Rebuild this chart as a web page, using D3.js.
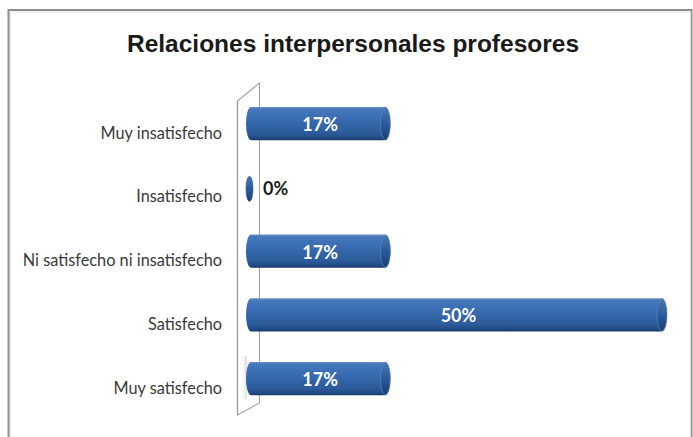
<!DOCTYPE html>
<html><head><meta charset="utf-8">
<script src="https://cdn.jsdelivr.net/npm/d3@7"></script>
<style>html,body{margin:0;padding:0;background:#fff;}svg{display:block;}</style>
</head><body>
<svg id="chart" width="693" height="437"></svg>
<script>
const title = "Relaciones interpersonales profesores";
const categories = ["Muy insatisfecho","Insatisfecho","Ni satisfecho ni insatisfecho","Satisfecho","Muy satisfecho"];
const values = [0.1667, 0, 0.1667, 0.5, 0.1667];
const xDomain = [0, 0.5];

const svg = d3.select("#chart");
const defs = svg.append("defs");
const g1 = defs.append("linearGradient").attr("id","barGrad").attr("x1",0).attr("y1",0).attr("x2",0).attr("y2",1);
[[0,"#6a90c6"],[0.07,"#4577bb"],[0.4,"#376aaf"],[0.8,"#2b5b99"],[0.93,"#224b84"],[1,"#183866"]]
  .forEach(([o,c])=>g1.append("stop").attr("offset",o).attr("stop-color",c));
const g2 = defs.append("linearGradient").attr("id","capGrad").attr("x1",0).attr("y1",0).attr("x2",0).attr("y2",1);
[[0,"#4a78b6"],[0.5,"#2b5b9b"],[1,"#1b3e70"]]
  .forEach(([o,c])=>g2.append("stop").attr("offset",o).attr("stop-color",c));
const g3 = defs.append("linearGradient").attr("id","shadeGrad").attr("x1",0).attr("y1",0).attr("x2",1).attr("y2",0);
[[0,"#ffffff",0],[1,"#b0b0b0",0.45]]
  .forEach(([o,c,a])=>g3.append("stop").attr("offset",o).attr("stop-color",c).attr("stop-opacity",a));

// frame
svg.append("rect").attr("x",8.5).attr("y",10).attr("width",683).attr("height",460)
  .attr("fill","#fff").attr("stroke","#8d8d8d").attr("stroke-width",2);
svg.append("rect").attr("x",10.5).attr("y",12).attr("width",680).attr("height",460)
  .attr("fill","none").attr("stroke","#e2e2e2").attr("stroke-width",1);

// title
svg.append("text").attr("x",353).attr("y",43).attr("text-anchor","middle").attr("dominant-baseline","central")
  .attr("font-family","'Liberation Sans', Arial, sans-serif").attr("font-weight","bold").attr("font-size",24.5)
  .attr("fill","#1a1a1a").text(title);

const y = d3.scaleBand().domain(categories).range([91.7, 410.45]).paddingInner(0.48).paddingOuter(0.24);
const x = d3.scaleLinear().domain(xDomain).range([252, 667]);
const bw = y.bandwidth();
const startOff = 6, rx = 5;
const fmt = d3.format(".0%");

// 3D wall
const wx0 = 237.5, wx1 = 259.5;
svg.append("path")
  .attr("d", `M${wx0},101 L${wx1},83 L${wx1},403 L${wx0},415 Z`)
  .attr("fill","#fff").attr("stroke","#a8a8a8").attr("stroke-width",1.2);
svg.append("path")
  .attr("d", `M${wx0},101 L${wx0},415`)
  .attr("stroke","#9a9a9a").attr("stroke-width",1.2);
// slight shading at lower wall
svg.append("rect").attr("x",240).attr("y",y(categories[4])-6).attr("width",7).attr("height",bw+10)
  .attr("fill","url(#shadeGrad)");

const data = categories.map((c,i)=>({c, v: values[i]}));

// bars
const bars = svg.append("g");
data.forEach(d=>{
  const top = y(d.c), cy = top + bw/2;
  const xs = x(0) - startOff;
  if (d.v === 0) {
    bars.append("ellipse").attr("cx", xs + 3.5).attr("cy", cy + 1.5).attr("rx", 3.5).attr("ry", 12.5)
      .attr("fill","url(#capGrad)").attr("stroke","#234b84").attr("stroke-width",0.6);
    return;
  }
  const xe = x(d.v);
  const ry = bw/2;
  bars.append("path")
    .attr("d", `M${xs+rx},${top} L${xe-rx},${top} A${rx},${ry} 0 0 1 ${xe-rx},${top+bw} L${xs+rx},${top+bw} A${rx},${ry} 0 0 1 ${xs+rx},${top} Z`)
    .attr("fill","url(#barGrad)");
  bars.append("ellipse").attr("cx", xe - rx).attr("cy", cy).attr("rx", rx).attr("ry", ry - 0.5)
    .attr("fill","url(#capGrad)").attr("stroke","#5b86c2").attr("stroke-width",0.7);
});

// category labels
svg.append("g").selectAll("text").data(data).join("text")
  .attr("x", 222).attr("y", d => y(d.c) + bw/2 + 8.5)
  .attr("text-anchor","end").attr("dominant-baseline","central")
  .attr("font-family","Lato, 'Open Sans', sans-serif").attr("font-size",16.3).attr("fill","#3a3a3a")
  .text(d=>d.c);

// value labels
svg.append("g").selectAll("text").data(data).join("text")
  .attr("x", d => d.v === 0 ? 263 : (x(0) - startOff + x(d.v))/2 + 2)
  .attr("y", d => y(d.c) + bw/2 + 0.5)
  .attr("text-anchor", d => d.v === 0 ? "start" : "middle")
  .attr("dominant-baseline","central")
  .attr("font-family","Lato, 'Open Sans', sans-serif").attr("font-weight","bold").attr("font-size",18)
  .attr("fill", d => d.v === 0 ? "#1a1a1a" : "#ffffff")
  .text(d=>fmt(d.v));
</script>
</body></html>
